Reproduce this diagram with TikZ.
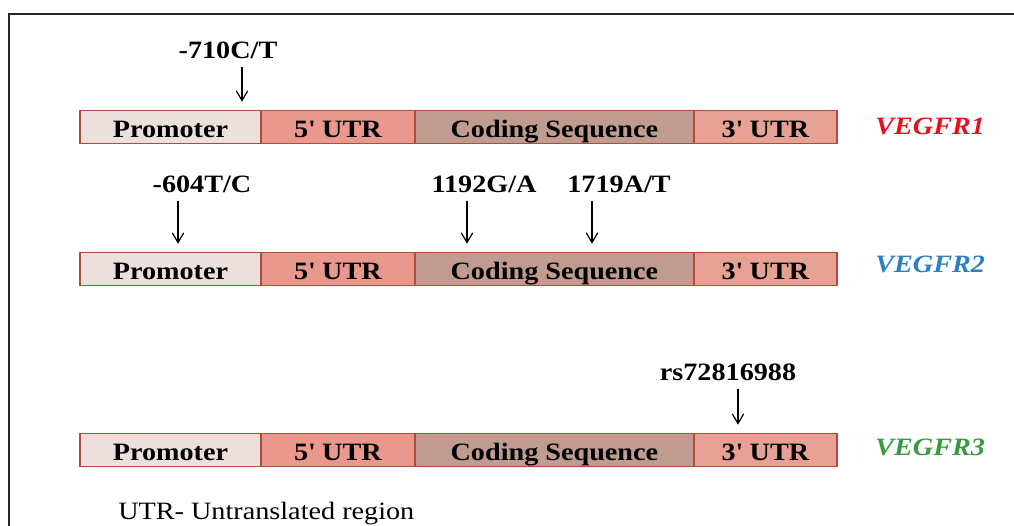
\documentclass[tikz,border=0pt]{standalone}
\usepackage{fontspec}
\setmainfont{Liberation Serif}[FakeStretch=1.13]
\usetikzlibrary{positioning,arrows.meta}
\definecolor{segline}{RGB}{172,78,58}
\definecolor{promfill}{RGB}{236,224,220}
\definecolor{utrfill}{RGB}{232,152,140}
\definecolor{codfill}{RGB}{192,156,144}
\definecolor{utrthree}{RGB}{230,160,148}
\definecolor{vred}{RGB}{226,18,30}
\definecolor{vblue}{RGB}{42,128,194}
\definecolor{vgreen}{RGB}{58,154,66}
\newcommand{\fivep}{5\textquotesingle{} UTR}
\newcommand{\threep}{3\textquotesingle{} UTR}
\tikzset{
  seg/.style={draw=segline, line width=0.9pt, minimum height=0.66cm,
    inner sep=0pt, outer sep=0pt, font=\bfseries,
    text height=11.4pt, text depth=0pt},
  prom/.style={seg, fill=promfill, minimum width=3.62cm},
  utr5/.style={seg, fill=utrfill, minimum width=3.08cm},
  cod/.style={seg, fill=codfill, minimum width=5.58cm},
  utr3/.style={seg, fill=utrthree, minimum width=2.86cm},
  snp/.style={font=\bfseries, anchor=base, inner sep=0pt},
  gene/.style={font=\bfseries\itshape, anchor=base west, inner sep=0pt},
  pin/.style={-{Straight Barb[length=5.5pt,width=6.5pt]}, line width=0.7pt,
    shorten <=5pt, shorten >=5pt}
}
\begin{document}
\begin{tikzpicture}[x=0.02cm, y=-0.02cm]
    \fontsize{14.2}{17}\selectfont
    \useasboundingbox (0,0) rectangle (1014,525);
    \draw [line width=1.4pt, black!85] (9,700) -- (9,14) -- (1200,14);
    % VEGFR1
    \node [prom, anchor=west] (p1) at (80,127) {Promoter};
    \node [utr5, right=0pt of p1] (u1) {\fivep};
    \node [cod, right=0pt of u1] (c1) {Coding Sequence};
    \node [utr3, right=0pt of c1] (t1) {\threep};
    \node [gene, text=vred] (g1) at (875,134) {VEGFR1};
    \node [snp] (m1) at (228,58) {-710C/T};
    \coordinate (a1) at (242,0);
    \draw [pin] (m1.south -| a1) -- (a1 |- p1.north);
    % VEGFR2
    \node [prom, anchor=west] (p2) at (80,269) {Promoter};
    \node [utr5, right=0pt of p2] (u2) {\fivep};
    \node [cod, right=0pt of u2] (c2) {Coding Sequence};
    \node [utr3, right=0pt of c2] (t2) {\threep};
    \node [gene, text=vblue] (g2) at (875,272) {VEGFR2};
    \node [snp] (m2) at (202,192) {-604T/C};
    \node [snp] (m3) at (484,192) {1192G/A};
    \node [snp] (m4) at (619,192) {1719A/T};
    \coordinate (a2) at (178,0);
    \coordinate (a3) at (467,0);
    \coordinate (a4) at (592,0);
    \draw [pin] (m2.south -| a2) -- (a2 |- p2.north);
    \draw [pin] (m3.south -| a3) -- (a3 |- c2.north);
    \draw [pin] (m4.south -| a4) -- (a4 |- c2.north);
    % VEGFR3
    \node [prom, anchor=west] (p3) at (80,450) {Promoter};
    \node [utr5, right=0pt of p3] (u3) {\fivep};
    \node [cod, right=0pt of u3] (c3) {Coding Sequence};
    \node [utr3, right=0pt of c3] (t3) {\threep};
    \node [gene, text=vgreen] (g3) at (875,455) {VEGFR3};
    \node [snp] (m5) at (728,380) {rs72816988};
    \coordinate (a5) at (738,0);
    \draw [pin] (m5.south -| a5) -- (a5 |- t3.north);
    % note
    \node [anchor=base west, inner sep=0pt] (note) at (118,519) {UTR- Untranslated region};
\end{tikzpicture}
\end{document}
